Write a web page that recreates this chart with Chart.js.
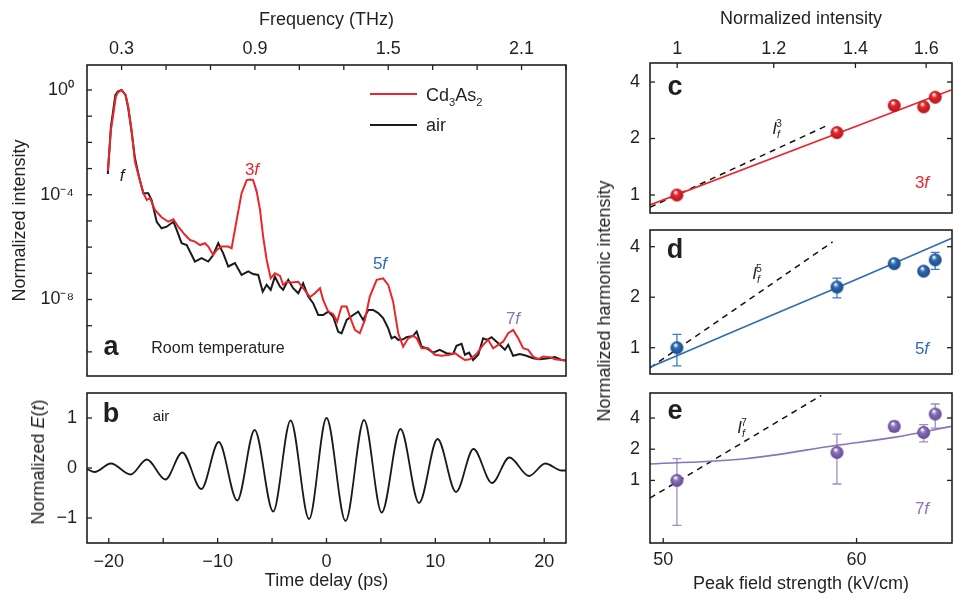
<!DOCTYPE html>
<html>
<head>
<meta charset="utf-8">
<script src="https://cdn.jsdelivr.net/npm/chart.js"></script>
<style>
  body { margin: 0; width: 955px; height: 599px; overflow: hidden; background: #fff; position: relative;
         font-family: "Liberation Sans", Arial, Helvetica, sans-serif; color: #231f20; }
  canvas { position: absolute; }
  .lbl { position: absolute; transform: translate(-50%, -50%); white-space: nowrap; line-height: 1; font-size: 17px; }
  .pan { font-weight: bold; font-size: 27px; }
  .rot { transform: translate(-50%, -50%) rotate(-90deg); font-size: 18px; }
  .key { position: absolute; width: 47px; height: 2px; }
  .txt { position: absolute; transform: translateY(-50%); font-size: 18px; line-height: 1; white-space: nowrap; }
  sub, sup { font-size: 62%; line-height: 0; }
</style>
</head>
<body>
<canvas id="chartA" width="575" height="380" style="left:0;top:0"></canvas>
<canvas id="chartB" width="575" height="219" style="left:0;top:380px"></canvas>
<canvas id="chartC" width="380" height="222" style="left:580px;top:0"></canvas>
<canvas id="chartD" width="380" height="160" style="left:580px;top:222px"></canvas>
<canvas id="chartE" width="380" height="217" style="left:580px;top:382px"></canvas>

<!-- legend and annotations -->
<div class="key" style="left:370px;top:93px;background:#e8262d"></div>
<div class="txt" style="left:426px;top:95px">Cd<sub>3</sub>As<sub>2</sub></div>
<div class="key" style="left:370px;top:124px;background:#1a1a1a"></div>
<div class="txt" style="left:426px;top:125px">air</div>

<div class="lbl" style="left:122px;top:175px"><i>f</i></div>
<div class="lbl" style="left:252px;top:169px;color:#e8262d">3<i>f</i></div>
<div class="lbl" style="left:380px;top:263px;color:#2c6db4">5<i>f</i></div>
<div class="lbl" style="left:513px;top:318px;color:#8b72b9">7<i>f</i></div>
<div class="lbl pan" style="left:111px;top:346px">a</div>
<div class="lbl" style="left:218px;top:348px;font-size:16px">Room temperature</div>

<div class="lbl pan" style="left:111px;top:413px">b</div>
<div class="lbl" style="left:161px;top:415px;font-size:15px">air</div>
<div class="lbl rot" style="left:38px;top:462px">Normalized <i>E</i>(<i>t</i>)</div>

<div class="lbl pan" style="left:675px;top:86px">c</div>
<div class="lbl" style="left:777px;top:128px"><i>I</i><sub><i>f</i></sub><sup style="margin-left:-4px">3</sup></div>
<div class="lbl" style="left:922px;top:182px;color:#e8262d">3<i>f</i></div>

<div class="lbl pan" style="left:675px;top:249px">d</div>
<div class="lbl" style="left:757px;top:273px"><i>I</i><sub><i>f</i></sub><sup style="margin-left:-4px">5</sup></div>
<div class="lbl" style="left:922px;top:348px;color:#2c6db4">5<i>f</i></div>

<div class="lbl pan" style="left:675px;top:410px">e</div>
<div class="lbl" style="left:742px;top:427px"><i>I</i><sub><i>f</i></sub><sup style="margin-left:-4px">7</sup></div>
<div class="lbl" style="left:922px;top:508px;color:#8b72b9">7<i>f</i></div>

<div class="lbl rot" style="left:604px;top:301px">Normalized harmonic intensity</div>

<script>
// ---- panel a: emission spectra (frequency in THz, intensity as power of ten) ----
const freqCd = [0.238,0.252,0.274,0.283,0.300,0.318,0.330,0.345,0.360,0.378,0.398,0.413,0.428,0.450,0.480,0.510,
  0.533,0.555,0.585,0.608,0.630,0.653,0.675,0.690,0.712,0.728,0.750,0.780,0.795,0.818,0.840,0.863,0.878,0.892,
  0.908,0.923,0.937,0.953,0.971,0.990,1.013,1.027,1.043,1.065,1.095,1.117,1.148,1.170,1.193,1.207,1.230,1.252,
  1.270,1.290,1.313,1.327,1.350,1.372,1.395,1.417,1.448,1.477,1.500,1.522,1.545,1.567,1.590,1.612,1.628,1.650,
  1.680,1.710,1.740,1.777,1.800,1.822,1.845,1.867,1.897,1.927,1.950,1.972,1.995,2.017,2.040,2.062,2.085,2.107,
  2.130,2.152,2.175,2.197,2.227,2.250,2.280,2.300];
const expCd = [-3.10,-1.53,-0.26,-0.10,0.0,-0.19,-0.64,-1.53,-2.74,-3.31,-3.94,-4.20,-4.13,-4.58,-4.86,-5.03,
  -4.94,-5.22,-5.53,-5.73,-5.79,-5.92,-5.85,-5.98,-6.30,-6.11,-5.98,-5.98,-6.04,-4.96,-3.94,-3.44,-3.42,-3.44,
  -3.88,-4.58,-5.60,-6.49,-7.19,-7.00,-7.10,-7.44,-7.32,-7.35,-7.32,-7.57,-7.91,-7.76,-7.57,-8.02,-8.46,-8.55,
  -8.84,-8.27,-8.27,-8.65,-9.16,-9.29,-8.78,-7.89,-7.25,-7.19,-7.44,-8.08,-9.29,-9.80,-9.48,-9.39,-9.48,-9.86,
  -9.86,-10.11,-10.15,-10.11,-10.05,-10.18,-10.31,-10.28,-10.08,-9.73,-9.54,-9.86,-9.73,-9.61,-9.29,-9.16,-9.48,
  -9.86,-9.92,-10.18,-10.28,-10.18,-10.20,-10.28,-10.31,-10.33];
const freqAir = [0.238,0.252,0.272,0.283,0.300,0.318,0.330,0.345,0.360,0.378,0.398,0.420,0.435,0.458,0.480,0.503,
  0.533,0.548,0.570,0.593,0.630,0.660,0.690,0.712,0.735,0.757,0.780,0.810,0.840,0.870,0.892,0.915,0.935,0.953,
  0.971,0.990,1.013,1.027,1.050,1.072,1.095,1.117,1.140,1.162,1.185,1.207,1.230,1.252,1.275,1.290,1.313,1.342,
  1.365,1.387,1.410,1.432,1.455,1.477,1.500,1.515,1.530,1.545,1.567,1.582,1.612,1.628,1.650,1.672,1.702,1.732,
  1.762,1.792,1.807,1.830,1.845,1.864,1.882,1.905,1.927,1.945,1.965,1.995,2.025,2.040,2.062,2.092,2.122,2.152,
  2.182,2.220,2.250,2.280,2.300];
const expAir = [-3.21,-1.40,-0.20,-0.06,0.0,-0.20,-0.70,-1.60,-2.60,-3.30,-3.94,-3.94,-4.20,-5.03,-5.28,-5.22,
  -5.03,-5.34,-5.85,-5.92,-6.55,-6.42,-6.55,-6.30,-5.85,-6.23,-6.74,-6.61,-7.06,-6.93,-7.03,-7.06,-7.70,-7.44,
  -7.63,-7.13,-7.51,-7.63,-7.25,-7.57,-7.76,-7.38,-7.89,-8.14,-8.59,-8.59,-8.46,-8.65,-9.23,-9.29,-8.78,-8.59,
  -8.46,-8.78,-8.40,-8.40,-8.52,-8.71,-9.10,-9.48,-9.42,-9.54,-9.52,-9.44,-9.39,-9.22,-9.80,-9.86,-10.03,-9.92,
  -10.05,-10.08,-9.77,-9.69,-10.11,-10.03,-10.31,-10.11,-9.48,-9.54,-9.44,-9.67,-9.92,-9.73,-10.15,-10.08,-10.15,
  -10.24,-10.28,-10.24,-10.20,-10.31,-10.33];

// ---- panel b: air waveform, extrema (ps, normalized) ----
const delay = [-22,-21.3,-19.8,-18.0,-16.5,-14.8,-13.25,-11.5,-9.9,-8.2,-6.6,-4.9,-3.3,-1.6,0,1.75,3.45,5.07,
  6.8,8.5,10.2,11.9,13.5,15.2,16.8,18.6,20.1,21.6,22];
const fieldAir = [-0.02,-0.08,0.09,-0.13,0.17,-0.23,0.31,-0.42,0.52,-0.65,0.76,-0.87,0.95,-1.02,1.0,-1.06,0.96,
  -0.89,0.78,-0.70,0.58,-0.48,0.38,-0.30,0.21,-0.16,0.09,-0.05,-0.05];

// ---- panels c-e: harmonic intensity vs peak field (kV/cm) ----
const peakField = [50.65, 58.9, 62.17, 63.92, 64.62];
const int3f = [1.0, 2.15, 3.0, 2.95, 3.32];
const int5f = [1.0, 2.30, 3.17, 2.86, 3.34];
const int5fLo = [0.78, 1.98, 3.05, 2.74, 2.93];
const int5fHi = [1.20, 2.60, 3.28, 2.98, 3.70];
const int7f = [1.0, 1.86, 3.32, 2.90, 4.37];
const int7fLo = [0.368, 0.923, 2.97, 2.35, 3.20];
const int7fHi = [1.62, 2.80, 3.71, 3.45, 5.46];

const fit3fField = [49.38, 65.6];
const fit3fInt = [0.885, 3.63];
const ref3Field = [49.38, 58.42];
const ref3Int = [0.86, 2.36];
const fit5fField = [49.38, 53.37, 58.9, 65.6];
const fit5fInt = [0.765, 1.24, 2.28, 4.47];
const ref5Field = [49.38, 58.66];
const ref5Int = [0.758, 4.27];
const fit7fField = [49.38, 54.03, 58.9, 62.15, 65.6];
const fit7fInt = [1.44, 1.62, 2.18, 2.60, 3.32];
const ref7Field = [49.38, 58.04];
const ref7Int = [0.676, 6.61];

// axis ticks
const freqTicks = [0.3,0.5,0.7,0.9,1.1,1.3,1.5,1.7,1.9,2.1,2.3];
const freqLabels = ['0.3', '0.9', '1.5', '2.1'];
const decadeTicks = [0,-1,-2,-3,-4,-5,-6,-7,-8,-9,-10];
const decadeLabels = [0, -4, -8];
const delayTicks = [-20,-15,-10,-5,0,5,10,15,20];
const fieldTicksB = [-1, 0, 1];
const harmTicks = [1, 2, 4];
const normIntTicks = [1, 1.2, 1.4, 1.6];
const peakFieldTicks = [50, 60];
const fieldRef = 50.65; // field where normalized intensity is 1

const RED = '#e8262d', BLUE = '#2c6db4', PURPLE = '#8b72b9', INK = '#231f20';
const TICK = 5;

Chart.defaults.font.family = '"Liberation Sans", Arial, Helvetica, sans-serif';
Chart.defaults.font.size = 18;
Chart.defaults.color = INK;

function zip(xs, ys) {
  return xs.map((x, i) => ({ x: x, y: ys[i] }));
}

function minus(s) {
  return String(s).replace('-', '\u2212');
}

const SUP = { '0': '\u2070', '1': '\u00b9', '2': '\u00b2', '3': '\u00b3', '4': '\u2074', '5': '\u2075',
  '6': '\u2076', '7': '\u2077', '8': '\u2078', '9': '\u2079', '-': '\u207b' };
function powLabel(e) {
  return '10' + String(e).split('').map(c => SUP[c]).join('');
}

function sphere(base, dark) {
  const size = 15, r = 6.5;
  const c = document.createElement('canvas');
  c.width = c.height = size;
  const g = c.getContext('2d');
  const grad = g.createRadialGradient(size / 2 - 1.5, size / 2 - 3, 0.5, size / 2, size / 2, r);
  grad.addColorStop(0, '#ffffff');
  grad.addColorStop(0.35, base);
  grad.addColorStop(1, dark);
  g.fillStyle = grad;
  g.beginPath();
  g.arc(size / 2, size / 2, r, 0, Math.PI * 2);
  g.fill();
  return c;
}

// box round the plot area plus inward tick marks
function frame(spec) {
  return {
    id: 'frame',
    afterDraw(chart) {
      const ctx = chart.ctx, a = chart.chartArea;
      ctx.save();
      ctx.strokeStyle = INK;
      ctx.lineWidth = 1.6;
      ctx.strokeRect(a.left, a.top, a.right - a.left, a.bottom - a.top);
      ctx.lineWidth = 1.3;
      spec.forEach(([id, side]) => {
        const s = chart.scales[id];
        s.ticks.forEach(t => {
          const p = s.getPixelForValue(t.value);
          ctx.beginPath();
          if (side === 'left') { ctx.moveTo(a.left, p); ctx.lineTo(a.left + TICK, p); }
          if (side === 'right') { ctx.moveTo(a.right, p); ctx.lineTo(a.right - TICK, p); }
          if (side === 'top') { ctx.moveTo(p, a.top); ctx.lineTo(p, a.top + TICK); }
          if (side === 'bottom') { ctx.moveTo(p, a.bottom); ctx.lineTo(p, a.bottom - TICK); }
          ctx.stroke();
        });
      });
      ctx.restore();
    }
  };
}

const errorBars = {
  id: 'errorBars',
  beforeDatasetsDraw(chart) {
    const ctx = chart.ctx, xs = chart.scales.x, ys = chart.scales.y;
    chart.data.datasets.forEach(ds => {
      if (!ds.errLo) return;
      ctx.save();
      ctx.strokeStyle = ds.errColor;
      ctx.lineWidth = 1.3;
      ds.data.forEach((pt, i) => {
        const px = xs.getPixelForValue(pt.x);
        const lo = ys.getPixelForValue(ds.errLo[i]);
        const hi = ys.getPixelForValue(ds.errHi[i]);
        ctx.beginPath();
        ctx.moveTo(px, lo); ctx.lineTo(px, hi);
        ctx.moveTo(px - 4.5, lo); ctx.lineTo(px + 4.5, lo);
        ctx.moveTo(px - 4.5, hi); ctx.lineTo(px + 4.5, hi);
        ctx.stroke();
      });
      ctx.restore();
    });
  }
};

function fixW(w) {
  return s => { s.width = w; s.paddingTop = 0; s.paddingBottom = 0; };
}
function fixH(h) {
  return s => { s.height = h; s.paddingLeft = 0; s.paddingRight = 0; };
}
function setTicks(list) {
  return s => { s.ticks = list.map(v => ({ value: v })); };
}
const noGrid = { display: false, drawTicks: false };
const noBorder = { display: false };
const quiet = { legend: { display: false }, tooltip: { enabled: false } };

// ---------- panel a ----------
new Chart(document.getElementById('chartA'), {
  type: 'line',
  data: {
    datasets: [
      { label: 'Cd3As2', data: zip(freqCd, expCd.map(e => Math.pow(10, e))), borderColor: RED,
        borderWidth: 2, pointRadius: 0 },
      { label: 'air', data: zip(freqAir, expAir.map(e => Math.pow(10, e))), borderColor: '#1a1a1a',
        borderWidth: 2, pointRadius: 0 }
    ]
  },
  options: {
    responsive: false, animation: false,
    layout: { padding: { right: 9, bottom: 4 } },
    plugins: quiet,
    scales: {
      x: {
        type: 'linear', position: 'top', min: 0.1443, max: 2.3,
        grid: noGrid, border: noBorder,
        afterFit: fixH(65), afterBuildTicks: setTicks(freqTicks),
        ticks: { autoSkip: false, maxRotation: 0, padding: 5,
          callback: v => { const t = v.toFixed(1); return freqLabels.includes(t) ? t : ''; } },
        title: { display: true, text: 'Frequency (THz)', padding: { top: 9, bottom: 0 } }
      },
      y: {
        type: 'logarithmic', min: 1.2e-11, max: 9,
        grid: noGrid, border: noBorder,
        afterFit: fixW(87), afterBuildTicks: setTicks(decadeTicks.map(e => Math.pow(10, e))),
        ticks: { autoSkip: false, padding: 13,
          callback: v => { const e = Math.round(Math.log10(v)); return decadeLabels.includes(e) ? powLabel(e) : ''; } },
        title: { display: true, text: 'Normalized intensity', padding: { top: 9, bottom: 0 } }
      }
    }
  },
  plugins: [frame([['x', 'top'], ['y', 'left']])]
});

// ---------- panel b ----------
new Chart(document.getElementById('chartB'), {
  type: 'line',
  data: {
    datasets: [
      { label: 'air', data: zip(delay, fieldAir), borderColor: '#1a1a1a', borderWidth: 1.8,
        pointRadius: 0, cubicInterpolationMode: 'monotone' }
    ]
  },
  options: {
    responsive: false, animation: false,
    layout: { padding: { top: 13, right: 9 } },
    plugins: quiet,
    scales: {
      x: {
        type: 'linear', position: 'bottom', min: -22, max: 22,
        grid: noGrid, border: noBorder,
        afterFit: fixH(56), afterBuildTicks: setTicks(delayTicks),
        ticks: { autoSkip: false, maxRotation: 0, padding: 8,
          callback: v => (v % 10 === 0 ? minus(v) : '') },
        title: { display: true, text: 'Time delay (ps)', padding: { top: 0, bottom: 7 } }
      },
      y: {
        type: 'linear', min: -1.5, max: 1.5,
        grid: noGrid, border: noBorder,
        afterFit: fixW(87), afterBuildTicks: setTicks(fieldTicksB),
        ticks: { autoSkip: false, padding: 10, callback: v => minus(v) }
      }
    }
  },
  plugins: [frame([['x', 'bottom'], ['y', 'left']])]
});

// ---------- panels c, d, e ----------
const fieldMin = 49.38, fieldMax = 65.65;

function harmonicChart(id, opts) {
  const datasets = [
    { label: 'data', data: zip(peakField, opts.points), showLine: false,
      pointStyle: sphere(opts.color, opts.dark), pointRadius: 7,
      errLo: opts.lo, errHi: opts.hi, errColor: opts.errColor },
    { label: 'fit', data: zip(opts.fitField, opts.fitInt), borderColor: opts.color, borderWidth: 1.6,
      pointRadius: 0, cubicInterpolationMode: 'monotone' },
    { label: 'ref', data: zip(opts.refField, opts.refInt), borderColor: '#111', borderWidth: 1.5,
      borderDash: [6, 5], pointRadius: 0 }
  ];
  const xScale = {
    type: 'logarithmic', min: fieldMin, max: fieldMax, display: opts.bottomAxis,
    grid: noGrid, border: noBorder,
    afterBuildTicks: setTicks(peakFieldTicks),
    ticks: { autoSkip: false, maxRotation: 0, padding: 6, callback: v => String(v) },
    title: { display: true, text: 'Peak field strength (kV/cm)', padding: { top: 0, bottom: 4 } }
  };
  if (opts.bottomAxis) xScale.afterFit = fixH(56);
  const scales = {
    x: xScale,
    y: {
      type: 'logarithmic', min: opts.yMin, max: opts.yMax,
      grid: noGrid, border: noBorder,
      afterFit: fixW(70), afterBuildTicks: setTicks(harmTicks),
      ticks: { autoSkip: false, padding: 10, callback: v => String(v) }
    }
  };
  const ticks = [['y', 'left'], ['y', 'right']];
  if (opts.topAxis) {
    scales.xi = {
      type: 'logarithmic', position: 'top',
      min: Math.pow(fieldMin / fieldRef, 2), max: Math.pow(fieldMax / fieldRef, 2),
      grid: noGrid, border: noBorder,
      afterFit: fixH(63), afterBuildTicks: setTicks(normIntTicks),
      ticks: { autoSkip: false, maxRotation: 0, padding: 3, callback: v => String(v) },
      title: { display: true, text: 'Normalized intensity', padding: { top: 8, bottom: 0 } }
    };
    ticks.push(['xi', 'top']);
  }
  if (opts.bottomAxis) ticks.push(['x', 'bottom']);
  new Chart(document.getElementById(id), {
    type: 'line',
    data: { datasets: datasets },
    options: {
      responsive: false, animation: false,
      layout: { padding: opts.padding },
      plugins: quiet,
      scales: scales
    },
    plugins: [errorBars, frame(ticks)]
  });
}

harmonicChart('chartC', {
  points: int3f, lo: null, hi: null, color: RED, dark: '#b3161c', errColor: RED,
  fitField: fit3fField, fitInt: fit3fInt, refField: ref3Field, refInt: ref3Int,
  yMin: 0.802, yMax: 5.05, topAxis: true, bottomAxis: false,
  padding: { right: 4, bottom: 9 }
});

harmonicChart('chartD', {
  points: int5f, lo: int5fLo, hi: int5fHi, color: BLUE, dark: '#1b4a85', errColor: '#3d7cc4',
  fitField: fit5fField, fitInt: fit5fInt, refField: ref5Field, refInt: ref5Int,
  yMin: 0.697, yMax: 5.03, topAxis: false, bottomAxis: false,
  padding: { top: 6, right: 4, bottom: 4 }
});

harmonicChart('chartE', {
  points: int7f, lo: int7fLo, hi: int7fHi, color: PURPLE, dark: '#624a91', errColor: '#a08dc8',
  fitField: fit7fField, fitInt: fit7fInt, refField: ref7Field, refInt: ref7Int,
  yMin: 0.249, yMax: 6.97, topAxis: false, bottomAxis: true,
  padding: { top: 11, right: 4 }
});
</script>
</body>
</html>
